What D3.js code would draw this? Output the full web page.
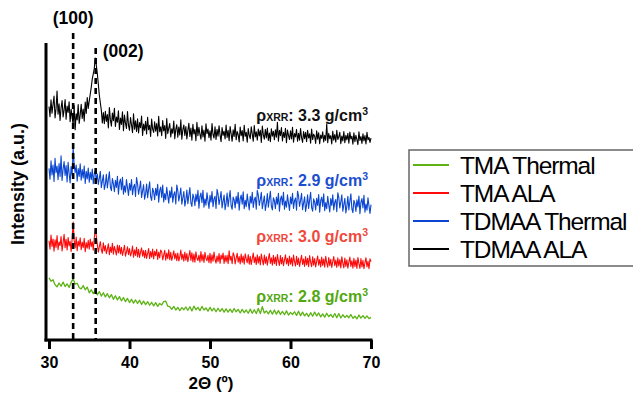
<!DOCTYPE html>
<html>
<head>
<meta charset="utf-8">
<script src="https://cdn.jsdelivr.net/npm/d3@7/dist/d3.min.js"></script>
<style>
  html, body { margin: 0; padding: 0; background: #fff; }
  svg { display: block; }
  text { font-family: "Liberation Sans", Arial, Helvetica, sans-serif; }
</style>
</head>
<body>
<svg id="chart" width="633" height="393"></svg>
<script>
// ---- data -------------------------------------------------------------
const angleStart = 30, angleEnd = 70;
const fineStep = 0.125;  // sampling of the ALA / TDMAA scans (deg)
const coarseStep = 0.25; // sampling of the TMA Thermal scan (deg)
const xTicks = [30, 40, 50, 60, 70];
const peakPositions = [33.0, 35.8];
const peakLabels = ["(100)", "(002)"];

const seriesNames = ["TMA Thermal", "TMA ALA", "TDMAA Thermal", "TDMAA ALA"];
const seriesColors = ["#5cb314", "#ff0a0a", "#0a46d2", "#000000"];
const densityLabels = ["2.8", "3.0", "2.9", "3.3"];
const densityColors = ["#52a810", "#f0483c", "#1c4ed0", "#111111"];

// intensities (a.u., vertically offset as in the figure)
const tmaThermal = [
20.9,19.8,20.3,18.6, 17.9,19.2,18.1,19.5, 18.0,18.9,17.7,19.4, 20.6,18.8,19.1,17.6,
17.2,18.3,16.9,17.8, 15.9,16.9,15.6,16.8, 15.2,16.3,14.8,15.9, 14.5,15.6,14.2,15.3,
13.7,14.9,13.5,14.6, 13.2,14.3,12.9,14.0, 12.6,13.7,12.4,13.5, 12.3,13.4,12.0,13.1,
11.9,12.9,11.7,12.7, 11.5,12.6,11.3,12.3, 11.8,12.9,13.1,11.4, 11.2,10.3,11.3,10.1,
11.0,9.9,10.9,10.2, 11.1,10.0,11.2,9.8, 11.4,10.2,11.0,9.9, 11.3,10.1,10.8,9.7,
11.0,9.8,10.7,9.5, 10.7,9.6,10.6,9.4, 10.5,9.4,10.4,9.3, 10.6,9.5,10.3,9.1,
10.3,9.2,10.1,9.0, 10.4,9.0,10.2,8.9, 10.6,8.9,11.2,9.1, 9.8,8.8,10.0,8.7,
10.1,8.7,9.9,8.6, 9.6,8.5,9.8,8.4, 9.3,8.6,9.5,8.3, 9.7,8.2,9.4,8.1,
9.0,7.9,9.2,8.0, 9.4,8.1,9.1,7.8, 8.8,7.7,9.0,7.9, 8.6,7.6,8.9,7.5,
8.9,7.4,8.5,7.6, 8.3,7.5,8.6,7.3, 8.0,7.1,8.4,7.4, 8.2,7.3,8.1,7.2, 7.6];

const tmaALA = [
33.4,30.6,35.3,31.5,34.0,29.9,33.7,31.2, 35.2,30.4,33.0,31.8,34.8,30.0,32.6,35.6,
31.1,33.9,30.3,34.5,31.7,33.2,29.8,34.1, 39.7,33.5,31.0,34.7,30.1,33.3,31.6,34.4,
30.4,33.0,31.1,34.2,29.7,32.8,30.9,33.6, 30.6,34.0,31.4,33.1,30.2,34.4,37.0,35.1,
32.3,29.6,31.4,33.1,30.4,29.2,32.7,30.0, 31.8,29.1,30.6,32.4,28.7,31.3,29.5,32.6,
28.9,31.5,30.1,28.6,32.0,29.3,31.8,29.0, 31.2,28.5,30.0,31.9,28.2,29.7,31.4,28.7,
30.8,28.3,29.4,31.6,27.9,30.4,28.5,31.2, 28.0,30.5,27.8,29.6,31.0,28.2,30.1,27.6,
30.2,27.5,29.1,30.8,27.4,29.8,27.9,30.6, 27.3,29.9,28.4,30.5,27.1,29.6,27.6,30.3,
29.7,27.0,28.6,30.2,26.9,29.3,27.4,30.4, 27.0,29.5,26.8,28.3,30.0,27.3,29.1,26.7,
29.3,26.6,28.0,30.3,27.1,28.9,26.5,29.6, 26.9,29.1,26.4,28.2,30.1,26.8,29.4,26.3,
28.9,26.2,29.7,27.5,26.8,28.6,26.2,29.8, 26.6,28.8,26.1,29.5,27.4,26.7,28.5,26.0,
29.2,25.9,28.7,26.5,29.6,27.1,25.9,28.3, 26.4,29.1,25.8,28.6,27.2,29.3,25.8,28.4,
26.3,28.5,25.7,30.0,26.9,28.2,25.7,29.4, 28.4,25.6,27.6,29.2,26.2,28.1,25.6,28.9,
26.1,28.3,25.5,29.0,27.3,26.0,28.8,25.5, 28.2,25.4,27.5,29.3,26.0,27.9,25.4,28.7,
25.9,28.1,25.3,28.9,27.0,25.3,28.6,25.8, 28.0,25.2,27.4,29.1,25.8,27.7,25.2,28.5,
25.7,27.9,25.1,28.8,26.6,25.1,28.4,25.6, 27.8,25.0,26.9,28.7,25.6,27.5,25.0,28.3,
25.5,27.7,24.9,28.6,26.4,24.9,28.2,25.4, 27.6,24.8,26.7,28.5,25.4,27.3,24.8,28.1,
25.3,27.5,24.7,28.4,26.2,24.7,28.0,25.2, 27.4,24.6,26.5,28.3,25.2,27.1,24.6,27.9,
25.1,27.3,24.5,28.2,26.0,24.5,27.8,25.0, 27.2,24.4,26.4,28.1,25.0,26.9,24.4,27.7,
24.9,27.1,24.3,28.0,25.9,24.3,27.6,24.8, 27.0,24.2,26.2,27.9,24.8,26.7,24.2,27.5,
24.7,26.9,24.1,27.8,25.7,24.1,27.4,24.6, 26.8,24.0,26.0,27.7,24.6,26.5,24.0,27.3,
26.4];

const tdmaaThermal = [
57.8,54.1,60.3,55.6,58.9,53.4,61.2,56.3, 58.6,54.0,59.4,55.1,62.0,53.7,57.5,60.1,
55.4,58.7,53.2,59.8,56.0,52.9,58.4,55.5, 64.6,59.0,56.3,58.9,53.5,57.7,55.1,59.3,
53.8,57.4,54.6,58.6,52.7,56.8,54.2,57.9, 53.1,56.5,54.0,57.6,52.6,55.9,57.1,53.4,
55.9,52.4,54.4,56.8,51.3,53.5,55.6,50.7, 52.4,55.8,51.2,54.1,56.6,51.5,50.3,54.4,
52.6,49.9,53.8,51.4,55.1,49.1,53.0,54.2, 50.6,54.8,49.1,51.9,49.8,54.0,51.2,48.7,
52.7,50.4,54.0,48.9,51.5,52.4,48.3,54.7, 52.6,49.1,51.1,53.5,48.0,50.2,52.3,47.4,
49.1,52.5,47.9,50.8,53.3,48.2,47.0,51.1, 49.9,47.2,51.1,48.7,52.4,46.4,50.3,51.5,
48.0,52.2,46.5,49.3,47.2,51.4,48.6,46.1, 50.2,47.9,51.5,46.4,49.0,49.9,45.8,52.2,
50.3,46.8,48.8,51.2,45.7,47.9,50.0,45.1, 47.1,50.5,45.9,48.8,51.3,46.2,45.0,49.1,
47.9,45.2,49.1,46.7,50.4,44.4,48.3,49.5, 46.2,50.4,44.7,47.5,45.4,49.6,46.8,44.3,
48.7,46.4,50.0,44.9,47.5,48.4,44.3,50.7, 49.1,45.6,47.6,50.0,44.5,46.7,48.8,43.9,
46.1,49.5,44.9,47.8,50.3,45.2,44.0,48.1, 47.2,44.5,48.4,46.0,49.7,43.7,47.6,48.8,
45.7,49.9,44.2,47.0,44.9,49.1,46.3,43.8, 48.4,46.1,49.7,44.6,47.2,48.1,44.0,50.4,
48.8,45.3,47.3,49.7,44.2,46.4,48.5,43.6, 45.9,49.3,44.7,47.6,50.1,45.0,43.8,47.9,
46.9,44.2,48.1,45.7,49.4,43.4,47.3,48.5, 45.5,49.7,44.0,46.8,44.7,48.9,46.1,43.6,
48.1,45.8,49.4,44.3,46.9,47.8,43.7,50.1, 48.5,45.0,47.0,49.4,43.9,46.1,48.2,43.3,
45.5,48.9,44.3,47.2,49.7,44.6,43.4,47.5, 46.5,43.8,47.7,45.3,49.0,43.0,46.9,48.1,
45.0,49.2,43.5,46.3,44.2,48.4,45.6,43.1, 47.6,45.3,48.9,43.8,46.4,47.3,43.2,49.6,
48.0,44.5,46.5,48.9,43.4,45.6,47.7,42.8, 45.0,48.4,43.8,46.7,49.2,44.1,42.9,47.0,
46.0,43.3,47.2,44.8,48.5,42.5,46.4,47.6, 44.5,48.7,43.0,45.8,43.7,47.9,45.1,42.6,
45.6];

const tdmaaALA = [
78.6,75.2,80.9,76.4,79.3,82.1,74.8,77.9, 83.8,76.0,79.5,73.9,78.2,80.6,75.1,77.4,
81.0,74.3,78.8,76.6,80.2,73.5,77.7,75.0, 72.4,78.9,70.8,76.2,74.1,79.3,72.9,75.8,
79.4,74.6,77.8,73.7,80.1,76.3,81.6,78.0, 80.5,82.8,85.1,87.9,89.6,91.4,94.9,92.6,
89.8,86.2,82.5,79.9,77.4,73.1,76.6,72.8, 77.0,73.6,75.9,71.4,78.3,74.2,72.0,76.4,
73.8,78.0,71.9,75.1,73.3,77.2,70.9,74.7, 72.6,76.8,70.5,75.7,73.0,71.2,76.9,72.3,
70.6,74.9,72.4,69.8,76.2,71.0,73.8,70.2, 74.5,69.7,73.2,71.5,75.4,68.9,72.7,70.6,
73.6,69.4,75.0,70.8,72.3,68.5,74.4,71.0, 69.9,73.5,70.3,72.9,68.7,75.3,70.1,71.8,
68.8,73.9,70.4,72.2,67.9,74.6,69.5,71.3, 72.9,68.4,71.1,69.6,73.7,67.8,70.9,72.5,
68.3,71.7,69.0,74.1,67.6,70.8,72.4,68.9, 71.9,67.7,70.6,73.0,68.5,71.4,67.3,72.6,
69.4,70.9,67.1,73.3,68.8,71.6,69.2,67.6, 72.1,68.4,70.7,66.9,72.8,69.5,71.0,68.1,
70.4,67.3,72.9,69.2,68.0,71.8,67.5,70.9, 68.6,72.1,69.0,66.8,71.5,68.9,70.3,67.7,
72.4,68.2,70.6,67.1,71.9,69.4,66.9,70.8, 68.5,72.6,67.4,70.2,69.1,66.7,71.7,68.8,
70.5,67.0,72.3,68.6,69.9,66.6,71.2,68.9, 67.8,71.8,69.3,66.9,72.2,68.4,70.1,67.3,
71.0,68.7,70.6,66.5,72.0,69.1,67.6,70.9, 68.0,71.4,67.2,69.7,66.8,71.1,68.6,70.3,
67.4,70.8,68.3,73.3,66.9,70.6,68.8,71.5, 67.0,69.9,68.2,71.3,66.4,70.7,68.9,67.5,
70.4,67.7,71.6,66.6,69.5,68.4,70.9,66.9, 69.6,67.3,71.2,68.1,66.5,70.2,67.8,69.9,
66.8,70.6,68.0,69.4,66.3,71.0,67.5,69.3, 68.6,66.2,70.4,67.6,69.8,66.1,69.0,67.9,
70.1,66.7,68.9,67.2,72.8,66.4,69.6,67.8, 68.8,66.0,70.3,67.3,69.2,66.6,70.6,67.5,
68.4,69.9,66.1,68.7,67.0,70.2,66.4,68.9, 67.4,69.6,66.3,70.0,67.7,68.6,65.9,69.8,
66.8,68.9,67.5,65.8,70.1,67.2,68.5,66.2, 69.4,67.0,68.8,66.0,69.9,67.4,68.2,66.5,
68.0];

// ---- chart ------------------------------------------------------------
const svg = d3.select("#chart");
const x = d3.scaleLinear().domain([angleStart, angleEnd]).range([49, 371]);
const y = d3.scaleLinear().domain([0, 100]).range([340, 43]);

function toPoints(values, step) {
  const n = Math.round((angleEnd - angleStart) / step) + 1;
  return values.slice(0, n).map((v, i) => [angleStart + i * step, v]);
}
const seriesData = [
  toPoints(tmaThermal, coarseStep),
  toPoints(tmaALA, fineStep),
  toPoints(tdmaaThermal, fineStep),
  toPoints(tdmaaALA, fineStep)
];

const line = d3.line().x(d => x(d[0])).y(d => y(d[1]));

svg.append("g").selectAll("path")
  .data(seriesData)
  .join("path")
  .attr("d", line)
  .attr("fill", "none")
  .attr("stroke", (d, i) => seriesColors[i])
  .attr("stroke-width", (d, i) => i === 0 ? 1.3 : 1.1)
  .attr("stroke-linejoin", "round");

// dashed reference lines
const dashTops = [33, 48];
svg.append("g").selectAll("line")
  .data(peakPositions)
  .join("line")
  .attr("x1", d => x(d)).attr("x2", d => x(d))
  .attr("y1", (d, i) => dashTops[i]).attr("y2", y(0))
  .attr("stroke", "#000").attr("stroke-width", 2.6)
  .attr("stroke-dasharray", "6,4");

svg.append("text").attr("x", x(peakPositions[0])).attr("y", 24)
  .attr("text-anchor", "middle").attr("font-size", 17.5).attr("font-weight", "bold")
  .text(peakLabels[0]);
svg.append("text").attr("x", x(peakPositions[1]) + 7).attr("y", 57)
  .attr("text-anchor", "start").attr("font-size", 17.5).attr("font-weight", "bold")
  .text(peakLabels[1]);

// axes
const xAxis = d3.axisBottom(x).tickValues(xTicks).tickSize(9).tickSizeOuter(0).tickPadding(8);
const gx = svg.append("g").attr("transform", `translate(0,${y(0)})`).call(xAxis);
gx.select(".domain").remove();
gx.selectAll(".tick line").attr("stroke", "#000").attr("stroke-width", 3);
gx.selectAll(".tick text").attr("font-size", 16).attr("font-weight", "bold")
  .attr("fill", "#000").attr("font-family", "Liberation Sans, Arial, sans-serif");
svg.append("line").attr("x1", 44.5).attr("x2", x(70) + 1.5)
  .attr("y1", y(0)).attr("y2", y(0)).attr("stroke", "#000").attr("stroke-width", 3);
svg.append("line").attr("x1", 46).attr("x2", 46)
  .attr("y1", y(100)).attr("y2", y(0) + 1.5).attr("stroke", "#000").attr("stroke-width", 3);

svg.append("text").attr("x", 211).attr("y", 389).attr("text-anchor", "middle")
  .attr("font-size", 17).attr("font-weight", "bold").text("2Θ (º)");
svg.append("text").attr("transform", "translate(24,184) rotate(-90)")
  .attr("text-anchor", "middle").attr("font-size", 18).attr("font-weight", "bold")
  .text("Intensity (a.u.)");

// density annotations
const densityBaselines = [302, 242, 186, 121];
densityLabels.forEach((val, i) => {
  const t = svg.append("text").attr("x", 368).attr("y", densityBaselines[i])
    .attr("text-anchor", "end").attr("font-weight", "bold").attr("font-size", 16)
    .attr("fill", densityColors[i]);
  t.append("tspan").text("ρ");
  t.append("tspan").attr("font-size", 10.5).text("XRR");
  t.append("tspan").text(": " + val + " g/cm");
  t.append("tspan").attr("font-size", 10.5).attr("dy", -6).text("3");
});

// legend
const legend = svg.append("g");
legend.append("rect").attr("x", 409).attr("y", 150).attr("width", 240).attr("height", 116)
  .attr("fill", "#fff").attr("stroke", "#666").attr("stroke-width", 1.5);
const legendRows = legend.selectAll("g.row").data(seriesNames).join("g")
  .attr("class", "row")
  .attr("transform", (d, i) => `translate(0,${165 + i * 28})`);
legendRows.append("line").attr("x1", 413).attr("x2", 449).attr("y1", 0).attr("y2", 0)
  .attr("stroke", (d, i) => seriesColors[i]).attr("stroke-width", 2);
legendRows.append("text").attr("x", 460).attr("y", 8.5)
  .attr("font-size", 24.5).attr("letter-spacing", -1.1).attr("fill", "#000")
  .text(d => d);
</script>
</body>
</html>
